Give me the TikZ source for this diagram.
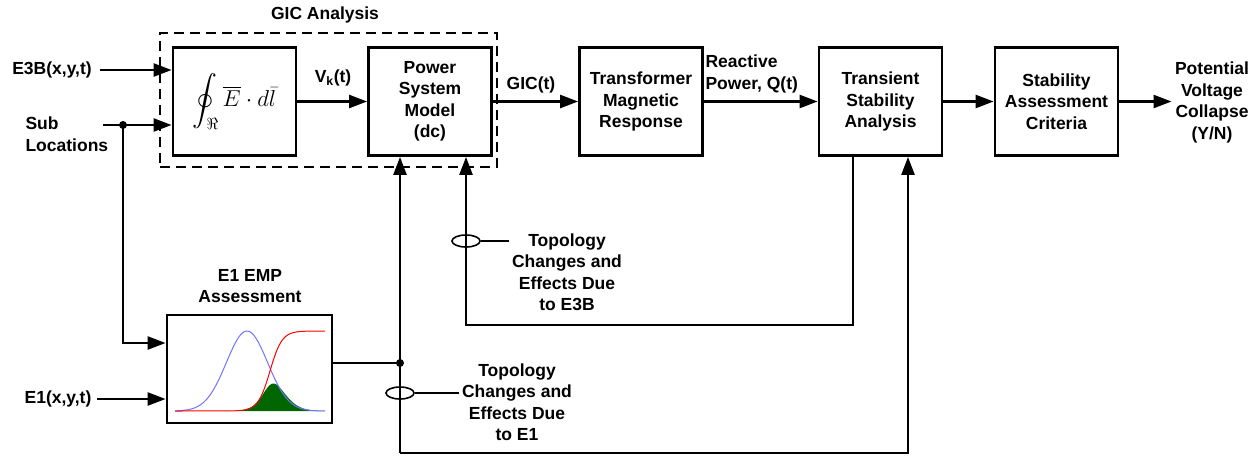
\RequirePackage{fix-cm}
\documentclass[tikz,border=0pt]{standalone}
\usepackage{amsmath}
\usepackage{fontspec}
\setmainfont{Liberation Sans}
\usetikzlibrary{arrows.meta,shapes.geometric}

\tikzset{
  blok/.style={draw, line width=2.8pt, minimum width=123pt, minimum height=108pt, align=center},
  garis/.style={line width=2.4pt},
  panah/.style={garis, -{Triangle[length=18pt,width=13pt]}},
  cincin/.style={draw, ellipse, line width=1.6pt, minimum width=28pt, minimum height=12pt, inner sep=0pt},
  tipis/.style={line width=1.6pt},
}

\begin{document}
\begin{tikzpicture}[x=1pt, y=-1pt, font=\fontsize{17.5}{21.5}\selectfont\bfseries]
\useasboundingbox (0,0) rectangle (1260,456);

% kotak putus-putus GIC
\node[draw, line width=2.6pt, dash pattern=on 10pt off 6pt, minimum width=337pt, minimum height=134pt] (gic) at (328.5,100) {};
\node (giclbl) at (325,15) {GIC Analysis};

% blok utama
\node[blok] (integ) at (234.5,101.5) {\fontsize{23}{27}\selectfont$\displaystyle\oint_{\Re}\overline{E}\cdot d\bar{l}$};
\foreach \nm/\cx/\txt in {psm/430/{Power\\System\\Model\\(dc)},
                          xfmr/641/{Transformer\\Magnetic\\Response},
                          tsa/880.5/{Transient\\Stability\\Analysis},
                          sac/1056.5/{Stability\\Assessment\\Criteria}} {
    \node[blok] (\nm) at (\cx,101.5) {\txt};
}
\node[blok, minimum width=165pt] (e1) at (249.5,369) {};
\node[align=center] (e1lbl) at (250,286) {E1 EMP\\Assessment};

% kurva di dalam blok E1
\fill[green!40!black] (240,411) -- plot[domain=240:325, samples=80, smooth]
    (\x, {411-95*exp(-0.5*((\x-247)/21)^2)/(1+exp(-(\x-270)/6))}) -- (325,411) -- cycle;
\draw[blue!55, line width=1pt] plot[domain=175:325, samples=120, smooth]
    (\x, {411-80*exp(-0.5*((\x-247)/20.6)^2)});
\draw[red, line width=1pt] (175,411) -- plot[domain=228:325, samples=100, smooth]
    (\x, {411-80/(1+exp(-(\x-270)/6))});

% masukan kiri
\node (e3b) at (52,70) {E3B(x,y,t)};
\node[align=left, anchor=west] (sub) at (22,134) {Sub\\Locations};
\node (e1in) at (58,399) {E1(x,y,t)};
\coordinate (subin) at (103,125);
\coordinate (cab) at (123,125);
\draw[panah] ([xshift=5pt]e3b.east) -- (e3b.east -| integ.west);
\draw[panah] (subin) -- (subin -| integ.west);
\fill (cab) circle (4pt);
\draw[panah] (cab) |- ([yshift=26pt]e1.west);
\draw[panah] ([xshift=2pt]e1in.east) -- (e1in.east -| e1.west);

% jalur atas
\draw[panah] (integ.east) -- (psm.west);
\node (vk) at (333,78) {V\textsubscript{k}(t)};
\draw[panah] (psm.east) -- (xfmr.west);
\node (gict) at (531,85) {GIC(t)};
\draw[panah] (xfmr.east) -- (xfmr.east -| tsa.west);
\node[align=left, anchor=west] (qt) at (702,74) {Reactive\\Power, Q(t)};
\draw[panah] (tsa.east |- sac.west) -- (sac.west);
\node[align=center] (hasil) at (1212,102.5) {Potential\\Voltage\\Collapse\\(Y/N)};
\draw[panah] (sac.east) -- (sac.east -| hasil.west);

% umpan balik E3B
\coordinate (ukanan) at (853,325);
\coordinate (ukiri) at (466,325);
\draw[panah] (ukanan |- tsa.south) -- (ukanan) -- (ukiri) -- (ukiri |- psm.south);
\node[cincin] (c1) at (466,241) {};
\node[align=center] (t1) at (567,272) {Topology\\Changes and\\Effects Due\\to E3B};
\draw[tipis] (c1.east) -- (c1.east -| t1.west);

% jalur bawah E1
\coordinate (jn) at (400,363);
\coordinate (bkiri) at (400,453);
\coordinate (bkanan) at (908,453);
\draw[garis] (e1.east |- jn) -- (jn);
\fill (jn) circle (4pt);
\draw[panah] (bkiri) -- (bkanan) -- (bkanan |- tsa.south);
\draw[panah] (bkiri) -- (bkiri |- psm.south);
\node[cincin] (c2) at (400,393) {};
\node[align=center] (t2) at (517,402) {Topology\\Changes and\\Effects Due\\to E1};
\draw[tipis] (c2.east) -- (c2.east -| t2.west);

\end{tikzpicture}
\end{document}
